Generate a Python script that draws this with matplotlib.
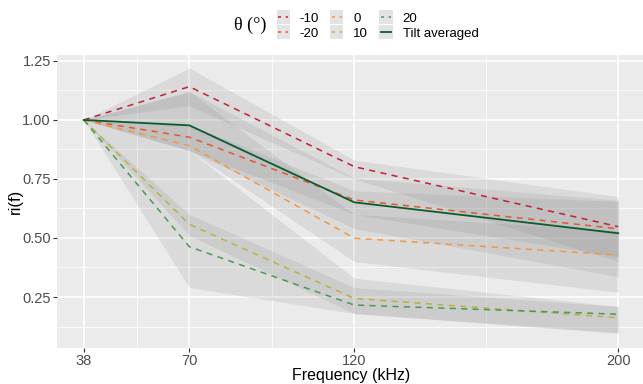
import numpy as np
import matplotlib.pyplot as plt
from matplotlib.lines import Line2D
from matplotlib.patches import Rectangle

# frequencies (kHz)
freq = [38, 70, 120, 200]

labels = ['-10', '-20', '0', '10', '20', 'Tilt averaged']
colors = ['#C41E3A', '#E4572E', '#EE9A45', '#B8B43F', '#4A9A55', '#0A5C30']

# relative response per tilt angle
r_m10 = [1.00, 1.141, 0.802, 0.548]
r_m20 = [1.00, 0.927, 0.661, 0.539]
r_0 = [1.00, 0.891, 0.499, 0.428]
r_10 = [1.00, 0.558, 0.244, 0.162]
r_20 = [1.00, 0.463, 0.216, 0.177]
r_avg = [1.00, 0.977, 0.651, 0.520]

# ribbon limits (lo, hi)
lo_m10 = [1.00, 1.06, 0.75, 0.40]
hi_m10 = [1.00, 1.22, 0.83, 0.675]
lo_m20 = [1.00, 0.87, 0.60, 0.42]
hi_m20 = [1.00, 0.98, 0.70, 0.655]
lo_0 = [1.00, 0.87, 0.40, 0.27]
hi_0 = [1.00, 1.12, 0.60, 0.53]
lo_10 = [1.00, 0.51, 0.18, 0.10]
hi_10 = [1.00, 0.87, 0.33, 0.21]
lo_20 = [1.00, 0.29, 0.18, 0.096]
hi_20 = [1.00, 0.60, 0.29, 0.21]
lo_avg = [1.00, 0.87, 0.54, 0.336]
hi_avg = [1.00, 1.12, 0.754, 0.66]

series = [r_m10, r_m20, r_0, r_10, r_20, r_avg]
lows = [lo_m10, lo_m20, lo_0, lo_10, lo_20, lo_avg]
highs = [hi_m10, hi_m20, hi_0, hi_10, hi_20, hi_avg]

plt.rcParams['font.family'] = ['Liberation Sans', 'DejaVu Sans']


class KeyHandler:
    # grey key box with the line across its middle, like ggplot
    def legend_artist(self, legend, orig_handle, fontsize, handlebox):
        x0, y0 = -handlebox.xdescent, -handlebox.ydescent
        w, h = handlebox.width, handlebox.height
        tr = handlebox.get_transform()
        rect = Rectangle((x0, y0), w, h, facecolor='#E3E3E3', edgecolor='none', transform=tr)
        ln = Line2D([x0 + 1, x0 + w - 1], [y0 + h / 2] * 2, color=orig_handle.get_color(),
                    lw=orig_handle.get_linewidth(), linestyle=orig_handle.get_linestyle(),
                    transform=tr)
        if orig_handle.get_linestyle() != '-':
            ln.set_dashes((2, 3))
        handlebox.add_artist(rect)
        handlebox.add_artist(ln)
        return rect


fig = plt.figure(figsize=(6.43, 3.84), dpi=100)
ax = fig.add_axes([57/643, 1 - 348/384, (645 - 57)/643, (348 - 55)/384])
ax.set_facecolor('#EBEBEB')
for s in ax.spines.values():
    s.set_visible(False)

ax.set_xlim(29.9, 208.1)
ax.set_ylim(0.034, 1.275)
ax.set_xticks(freq)
ax.set_xticks([54, 95, 160], minor=True)
ax.set_yticks([0.25, 0.5, 0.75, 1.0, 1.25])
ax.set_yticklabels(['0.25', '0.50', '0.75', '1.00', '1.25'])
ax.set_yticks([0.125, 0.375, 0.625, 0.875, 1.125], minor=True)
ax.grid(which='major', color='white', lw=1.1)
ax.grid(which='minor', color='white', lw=0.55)
ax.set_axisbelow(True)
ax.tick_params(which='major', length=3, color='#333333', labelcolor='#4D4D4D',
               labelsize=10.5, pad=1.5)
ax.tick_params(which='minor', length=0)

for lo, hi in zip(lows, highs):
    ax.fill_between(freq, lo, hi, color='#7F7F7F', alpha=0.15, lw=0)

lines = []
for y, c, lab in zip(series, colors, labels):
    if lab == 'Tilt averaged':
        ln, = ax.plot(freq, y, color=c, lw=1.3)
    else:
        ln, = ax.plot(freq, y, color=c, lw=1.1, dashes=(4, 3.5))
    lines.append(ln)

ax.set_xlabel('Frequency (kHz)', fontsize=11.5, labelpad=0)
ax.set_ylabel('ri(f)', fontsize=12)
ax.yaxis.set_label_coords(-0.058, 0.5)

leg = fig.legend(lines, labels, ncol=3, loc='center left', bbox_to_anchor=(270/643, 1 - 25/384),
                 frameon=False, fontsize=9.5, handlelength=1.0, handleheight=1.25,
                 handletextpad=0.75, columnspacing=0.85, labelspacing=0.05, borderpad=0,
                 handler_map={Line2D: KeyHandler()})
fig.text(266/643, 1 - 25/384, 'θ (°)', fontsize=13, family=['Liberation Serif', 'DejaVu Serif'],
         ha='right', va='center')

fig.savefig('out.png', dpi=100)
